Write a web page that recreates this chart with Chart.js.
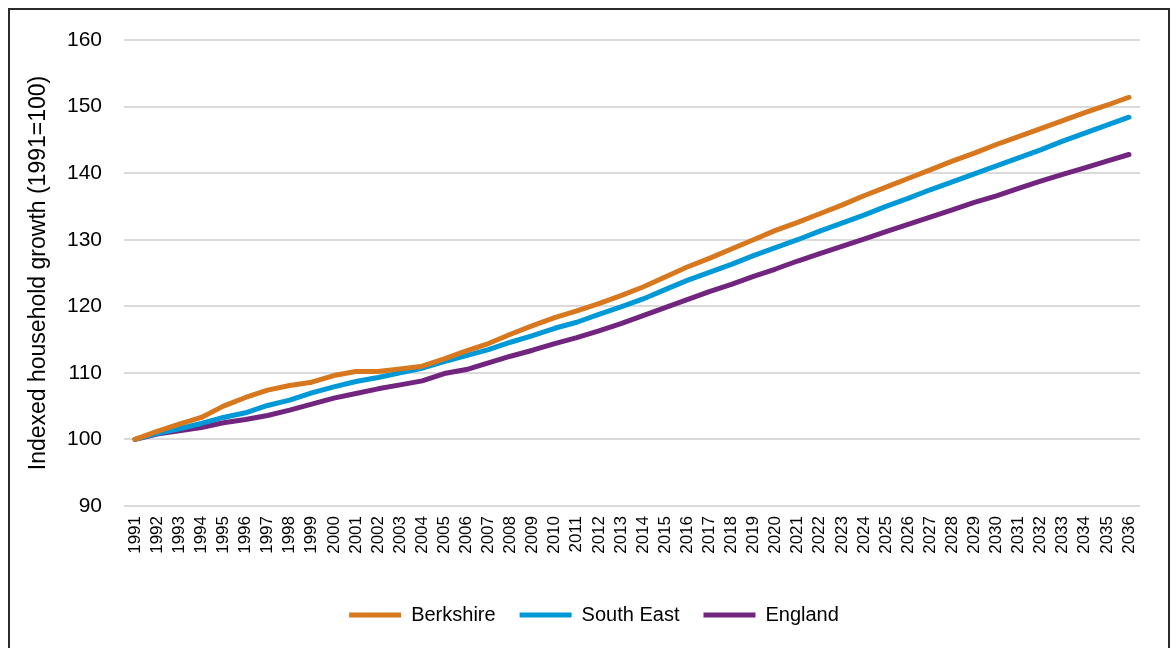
<!DOCTYPE html>
<html>
<head>
<meta charset="utf-8">
<script src="https://cdn.jsdelivr.net/npm/chart.js@4/dist/chart.umd.min.js"></script>
<style>
  html, body { margin: 0; padding: 0; background: #fff; overflow: hidden; }
  #wrap { position: relative; width: 1172px; height: 648px; }
  #frame { position: absolute; left: 8px; top: 8px; width: 1162px; height: 700px; border: 2px solid #2b2b2b; box-sizing: border-box; pointer-events: none; }
  canvas { position: absolute; left: 0; top: 0; }
</style>
</head>
<body>
<div id="wrap">
  <canvas id="grafica" width="1172" height="648"></canvas>
  <div id="frame"></div>
</div>
<script>
// data
var years = [];
for (var y = 1991; y <= 2036; y++) years.push(String(y));

var berkshire = [100.0, 101.2, 102.3, 103.3, 105.0, 106.3, 107.4, 108.1, 108.6, 109.6,
  110.2, 110.2, 110.6, 111.0, 112.1, 113.3, 114.4, 115.8, 117.1, 118.3,
  119.3, 120.4, 121.6, 122.9, 124.4, 125.9, 127.2, 128.6, 130.0, 131.4,
  132.6, 133.9, 135.2, 136.6, 137.9, 139.2, 140.5, 141.8, 143.0, 144.3,
  145.5, 146.7, 147.9, 149.1, 150.2, 151.4];

var southEast = [100.0, 100.9, 101.6, 102.4, 103.3, 104.0, 105.1, 105.9, 107.0, 107.9,
  108.7, 109.3, 110.0, 110.7, 111.7, 112.6, 113.5, 114.6, 115.6, 116.7,
  117.6, 118.8, 119.9, 121.1, 122.5, 123.9, 125.1, 126.3, 127.6, 128.8,
  130.0, 131.3, 132.5, 133.7, 135.0, 136.2, 137.5, 138.7, 139.9, 141.1,
  142.3, 143.5, 144.8, 146.0, 147.2, 148.4];

var england = [100.0, 100.8, 101.3, 101.8, 102.5, 103.0, 103.6, 104.4, 105.3, 106.2,
  106.9, 107.6, 108.2, 108.8, 109.9, 110.5, 111.5, 112.5, 113.4, 114.4,
  115.3, 116.3, 117.4, 118.6, 119.8, 121.0, 122.2, 123.3, 124.5, 125.6,
  126.8, 127.9, 129.0, 130.1, 131.2, 132.3, 133.4, 134.5, 135.6, 136.6,
  137.7, 138.8, 139.8, 140.8, 141.8, 142.8];

var yTicks = { min: 90, max: 160, step: 10 };

var fuente = '"Liberation Sans", Arial, sans-serif';

function serie(label, data, color) {
  return {
    label: label,
    data: data,
    borderColor: color,
    backgroundColor: color,
    borderWidth: 5,
    borderCapStyle: 'round',
    borderJoinStyle: 'round',
    pointRadius: 0,
    pointHoverRadius: 0,
    pointStyle: 'line',
    tension: 0,
    fill: false
  };
}

// the legend in the reference sits a bit right of the centre
const moverLeyenda = {
  id: 'moverLeyenda',
  afterLayout: function (chart) {
    chart.legend.left += 13;
    chart.legend.right += 13;
  }
};

const ctx = document.getElementById('grafica').getContext('2d');
new Chart(ctx, {
  type: 'line',
  data: {
    labels: years,
    datasets: [
      serie('Berkshire', berkshire, '#D7781F'),
      serie('South East', southEast, '#0099D8'),
      serie('England', england, '#72257F')
    ]
  },
  plugins: [moverLeyenda],
  options: {
    responsive: false,
    animation: false,
    events: [],
    layout: { padding: { left: 22, right: 32, top: 40, bottom: 13 } },
    plugins: {
      tooltip: { enabled: false },
      legend: {
        position: 'bottom',
        labels: {
          usePointStyle: true,
          pointStyle: 'line',
          pointStyleWidth: 52,
          boxHeight: 5,
          padding: 24,
          color: '#000',
          font: { family: fuente, size: 20 }
        }
      }
    },
    scales: {
      x: {
        offset: true,
        grid: { display: false, drawTicks: false },
        border: { display: false },
        ticks: {
          autoSkip: false,
          maxRotation: 90,
          minRotation: 90,
          padding: 10,
          color: '#000',
          font: { family: fuente, size: 17 }
        },
        afterFit: function (s) { s.height = 75; }
      },
      y: {
        min: yTicks.min,
        max: yTicks.max,
        grid: { color: '#DADADA', lineWidth: 2, drawTicks: false },
        border: { display: false },
        ticks: {
          stepSize: yTicks.step,
          padding: 22,
          color: '#000',
          font: { family: fuente, size: 21 }
        },
        title: {
          display: true,
          text: 'Indexed household growth (1991=100)',
          color: '#000',
          padding: { top: 3, bottom: 0 },
          font: { family: fuente, size: 23 }
        },
        afterFit: function (s) { s.width = 102; }
      }
    }
  }
});
</script>
</body>
</html>
